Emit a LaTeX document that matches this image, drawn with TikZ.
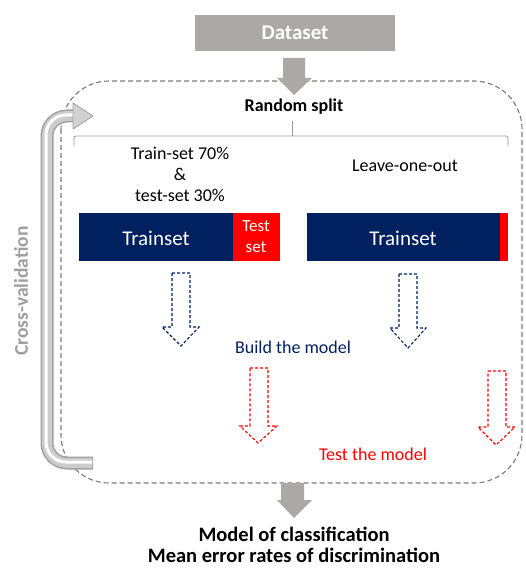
\documentclass[tikz,border=0pt]{standalone}
\usepackage{fontspec}
\setmainfont{Carlito}
\definecolor{navy}{HTML}{002060}
\definecolor{boxgray}{HTML}{ABA8A6}
\definecolor{dashgray}{HTML}{7A7A7A}
\begin{document}
\begin{tikzpicture}[x=1pt,y=-1pt,
  txt/.style={inner sep=0pt,align=center,font=\fontsize{18}{21}\selectfont},
  btxt/.style={inner sep=0pt,align=center,font=\fontsize{20.5}{21.5}\selectfont\bfseries},
  bararrow/.style={fill=boxgray,draw=none},
  navyarrow/.style={draw=navy,line width=1.1pt,dash pattern=on 3pt off 2pt},
  redarrow/.style={draw=red,line width=1.1pt,dash pattern=on 3pt off 2pt}]
\useasboundingbox (0,0) rectangle (526,569);
% dataset
\node[fill=boxgray,minimum width=200pt,minimum height=36pt,inner sep=0pt,text=white,font=\fontsize{21}{24}\selectfont\bfseries] (ds) at (295,33) {Dataset};
% dashed rounded box
\draw[dashgray,line width=1.1pt,dash pattern=on 5pt off 3pt,rounded corners=48pt] (61,81) rectangle (522,483);
% gray block arrows
\fill[bararrow] (283,58) -- (305,58) -- (305,78) -- (312,78) -- (294,95) -- (277,78) -- (283,78) -- cycle;
\fill[bararrow] (281,483) -- (304,483) -- (304,500) -- (312,500) -- (294,518) -- (277,500) -- (281,500) -- cycle;
% random split
\node[inner sep=0pt,font=\fontsize{18}{20}\selectfont\bfseries] (rs) at (294,107) {Random split};
% bracket
\draw[gray!80,line width=0.8pt,rounded corners=2pt] (74,146) -- (74,136) -- (508,136) -- (508,146);
\draw[gray!80,line width=0.8pt] (292,136) -- (292,121);
% labels
\node[txt] (tt) at (180,174) {Train-set 70\%\\\&\\test-set 30\%};
\node[txt] (loo) at (405,166) {Leave-one-out};
% bars
\fill[navy] (79,213) rectangle (233,261);
\fill[red] (233,213) rectangle (280,261);
\node[txt,text=white,font=\fontsize{21}{24}\selectfont] (tr1) at (156,238) {Trainset};
\node[txt,text=white,font=\fontsize{17}{21}\selectfont] (ts1) at (256,237) {Test\\set};
\fill[navy] (307,213) rectangle (500,261);
\fill[red] (500,213) rectangle (508,261);
\node[txt,text=white,font=\fontsize{21}{24}\selectfont] (tr2) at (403,238) {Trainset};
% dashed arrows
\draw[navyarrow] (172,273) -- (190,273) -- (190,327) -- (199,327) -- (181,346) -- (162,327) -- (172,327) -- cycle;
\draw[navyarrow] (399,274) -- (417,274) -- (417,328) -- (426,328) -- (408,348) -- (390,328) -- (399,328) -- cycle;
\draw[redarrow] (250,368) -- (268,368) -- (268,426) -- (277,426) -- (258,443) -- (240,426) -- (250,426) -- cycle;
\draw[redarrow] (488,371) -- (506,371) -- (506,427) -- (515,427) -- (496,445) -- (478,427) -- (488,427) -- cycle;
\node[txt,text=navy] (build) at (293,347) {Build the model};
\node[txt,text=red] (test) at (373,454) {Test the model};
% results
\node[btxt] (res) at (294,545) {Model of classification\\Mean error rates of discrimination};
% cross-validation tube
\draw[gray!75,line width=13pt,rounded corners=20pt] (93,463) -- (47,463) -- (47,116) -- (75,116);
\draw[gray!40,line width=10pt,rounded corners=20pt] (92.3,463) -- (47,463) -- (47,116) -- (75,116);
\draw[white,line width=3pt,rounded corners=20pt] (92,462) -- (46,462) -- (46,115) -- (75,115);
\draw[gray!75,fill=gray!35,line width=0.8pt] (73,103) -- (93,116) -- (73,129) -- cycle;
\node[inner sep=0pt,rotate=90,text=black!38,font=\fontsize{19.5}{22}\selectfont\bfseries] (cv) at (21,291) {Cross-validation};
\end{tikzpicture}
\end{document}
